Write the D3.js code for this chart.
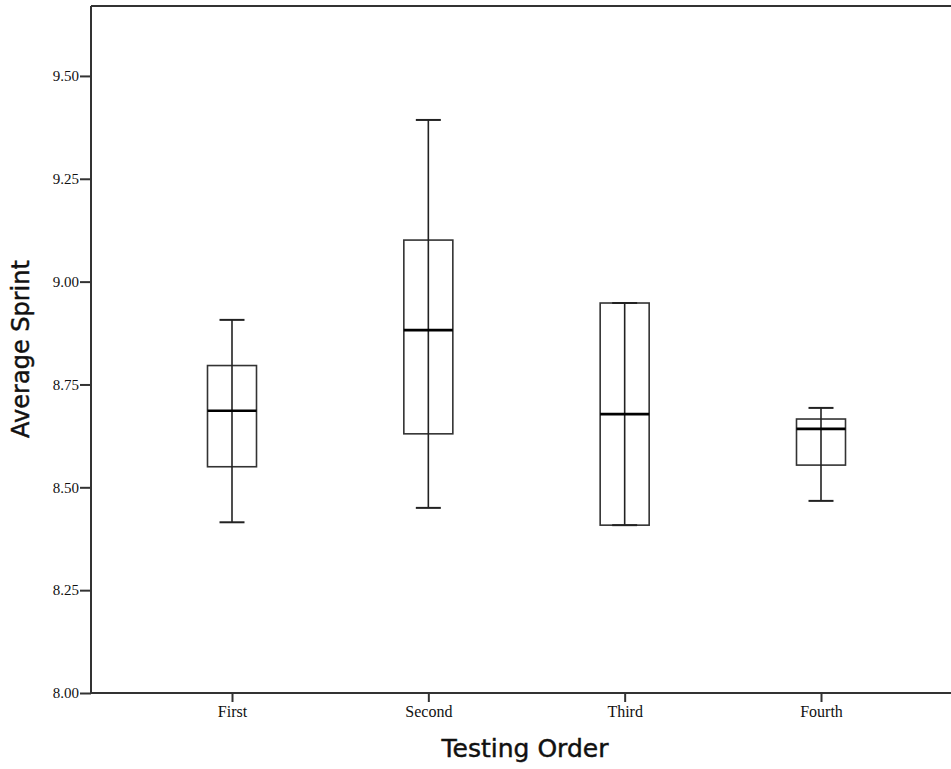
<!DOCTYPE html>
<html>
<head>
<meta charset="utf-8">
<script src="https://cdn.jsdelivr.net/npm/d3@7"></script>
<style>
  body { margin: 0; background: #fff; }
  .tick text { font-family: "Liberation Serif", "Times New Roman", serif; fill: #111; }
  .x-axis .tick text { font-size: 16px; }
  .y-axis .tick text { font-size: 15px; }
  .axis path, .axis line { stroke: #333; stroke-width: 2; }
  .axis-label { font-family: "DejaVu Sans", "Open Sans", sans-serif; fill: #111; stroke: #111; stroke-width: 0.45; }
</style>
</head>
<body>
<div id="chart"></div>
<script>
var categories = ["First", "Second", "Third", "Fourth"];
var whiskerLow = [8.415, 8.45, 8.408, 8.467];
var q1 = [8.550, 8.63, 8.408, 8.554];
var median = [8.686, 8.882, 8.678, 8.642];
var q3 = [8.796, 9.101, 8.948, 8.666];
var whiskerHigh = [8.907, 9.393, 8.948, 8.693];
var yTicks = [8.00, 8.25, 8.50, 8.75, 9.00, 9.25, 9.50];

var w = 951;
var h = 769;
var padLeft = 91, padTop = 6, axisY = 693;

var data = categories.map(function (c, i) {
  return { cat: c, lo: whiskerLow[i], q1: q1[i], med: median[i], q3: q3[i], hi: whiskerHigh[i] };
});

var svg = d3.select("#chart")
  .append("svg")
  .attr("width", w)
  .attr("height", h);

var xScale = d3.scalePoint()
  .domain(categories)
  .range([232, 821]);

var yScale = d3.scaleLinear()
  .domain([8, 9.67])
  .range([axisY, padTop]);

var boxW = 49, capW = 25;

// top frame line
svg.append("line")
  .attr("x1", padLeft).attr("x2", w)
  .attr("y1", padTop).attr("y2", padTop)
  .attr("stroke", "#333").attr("stroke-width", 2);

var xAxis = d3.axisBottom(xScale).tickSize(9).tickPadding(4);
var gx = svg.append("g")
  .attr("class", "axis x-axis")
  .attr("transform", "translate(0," + axisY + ")")
  .call(xAxis);
gx.select(".domain").attr("d", "M" + padLeft + ",0H" + w);

var yAxis = d3.axisLeft(yScale)
  .tickValues(yTicks)
  .tickFormat(d3.format(".2f"))
  .tickSize(11)
  .tickPadding(1);
var gy = svg.append("g")
  .attr("class", "axis y-axis")
  .attr("transform", "translate(" + padLeft + ",0)")
  .call(yAxis);
gy.select(".domain").attr("d", "M0," + padTop + "V" + axisY);

var boxes = svg.selectAll("g.box")
  .data(data)
  .enter()
  .append("g")
  .attr("class", "box");

boxes.append("rect")
  .attr("x", function (d) { return xScale(d.cat) - boxW / 2; })
  .attr("y", function (d) { return yScale(d.q3); })
  .attr("width", boxW)
  .attr("height", function (d) { return yScale(d.q1) - yScale(d.q3); })
  .attr("fill", "none")
  .attr("stroke", "#333")
  .attr("stroke-width", 1.6);

// whisker through the box
boxes.append("line")
  .attr("x1", function (d) { return xScale(d.cat); })
  .attr("x2", function (d) { return xScale(d.cat); })
  .attr("y1", function (d) { return yScale(d.lo); })
  .attr("y2", function (d) { return yScale(d.hi); })
  .attr("stroke", "#222")
  .attr("stroke-width", 1.6);

boxes.selectAll("line.cap")
  .data(function (d) { return [{ cat: d.cat, v: d.lo }, { cat: d.cat, v: d.hi }]; })
  .enter()
  .append("line")
  .attr("class", "cap")
  .attr("x1", function (d) { return xScale(d.cat) - capW / 2; })
  .attr("x2", function (d) { return xScale(d.cat) + capW / 2; })
  .attr("y1", function (d) { return yScale(d.v); })
  .attr("y2", function (d) { return yScale(d.v); })
  .attr("stroke", "#222")
  .attr("stroke-width", 2);

boxes.append("line")
  .attr("x1", function (d) { return xScale(d.cat) - boxW / 2; })
  .attr("x2", function (d) { return xScale(d.cat) + boxW / 2; })
  .attr("y1", function (d) { return yScale(d.med); })
  .attr("y2", function (d) { return yScale(d.med); })
  .attr("stroke", "#000")
  .attr("stroke-width", 2.6);

svg.append("text")
  .attr("class", "axis-label")
  .attr("transform", "translate(29,349) rotate(-90)")
  .attr("text-anchor", "middle")
  .style("font-size", "24px")
  .text("Average Sprint");

svg.append("text")
  .attr("class", "axis-label")
  .attr("x", 525)
  .attr("y", 757)
  .attr("text-anchor", "middle")
  .style("font-size", "25px")
  .text("Testing Order");
</script>
</body>
</html>
